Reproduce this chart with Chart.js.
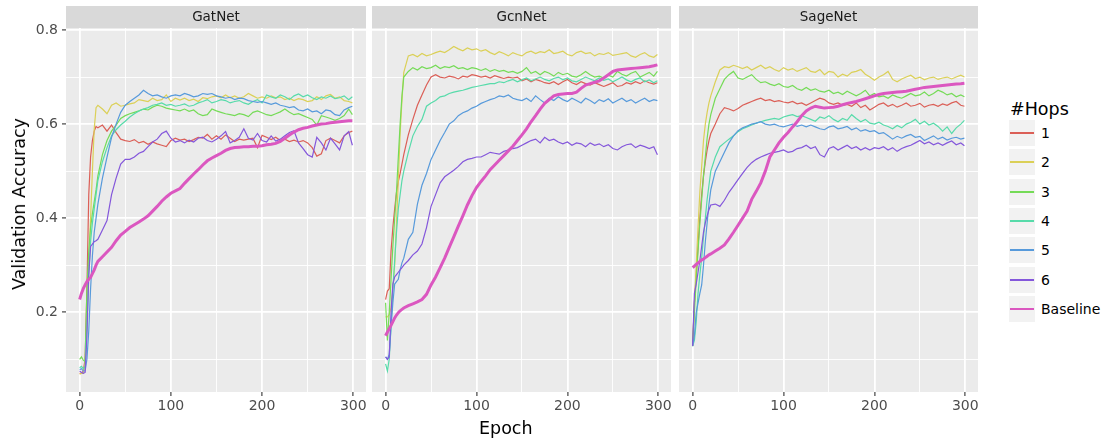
<!DOCTYPE html>
<html>
<head>
<meta charset="utf-8">
<script src="https://cdn.jsdelivr.net/npm/chart.js@4.4.0/dist/chart.umd.min.js"></script>
<style>
  body { margin: 0; background: #fff; width: 1113px; height: 443px; position: relative; overflow: hidden; font-family: "DejaVu Sans", sans-serif; }
  canvas.panel { position: absolute; top: 6px; }
  .axis-title { position: absolute; font-size: 17.5px; line-height: 20px; color: #000; white-space: nowrap; }
  #ytitle { left: 18.5px; top: 203.5px; transform: translate(-50%, -50%) rotate(-90deg); }
  #xtitle { left: 479px; top: 418px; }
  #legend-title { position: absolute; left: 1010px; top: 99px; font-size: 17.5px; line-height: 20px; color: #000; }
  .key { position: absolute; left: 1009px; width: 26px; height: 26px; background: #F2F2F2; }
  .key span { position: absolute; left: 1px; right: 1px; top: 12px; height: 2px; }
  .key-label { position: absolute; left: 1041px; height: 26px; line-height: 26px; font-size: 14px; color: #000; }
</style>
</head>
<body>
<canvas id="gat" class="panel" width="386" height="416" style="left:0px"></canvas>
<canvas id="gcn" class="panel" width="319" height="416" style="left:372px"></canvas>
<canvas id="sage" class="panel" width="319" height="416" style="left:679px"></canvas>
<div id="ytitle" class="axis-title">Validation Accuracy</div>
<div id="xtitle" class="axis-title">Epoch</div>
<div id="legend-title">#Hops</div>
<div id="legend"></div>
<script>
// epochs at which accuracy is sampled
const epochs = [0,2,4,6,8,10,12,14,16,18,20,
  25,30,35,40,45,50,55,60,65,70,
  75,80,85,90,95,100,105,110,115,120,
  125,130,135,140,145,150,155,160,165,170,
  175,180,185,190,195,200,205,210,215,220,
  225,230,235,240,245,250,255,260,265,270,
  275,280,285,290,295,299];

const hopLabels = ['1', '2', '3', '4', '5', '6', 'Baseline'];
const hopColors = ['#DB5F57', '#DBD057', '#75DB57', '#57DBAA', '#579ADB', '#8457DB', '#DB57C0'];
const xTicks = [0, 50, 100, 150, 200, 250, 300];
const yTicks = [0.1, 0.2, 0.3, 0.4, 0.5, 0.6, 0.7, 0.8];

// ---- GatNet ----
const gatHop1 = [0.07,0.07,0.075,0.10,0.25,0.45,0.53,0.565,0.585,0.595,0.592,
  0.598,0.585,0.598,0.582,0.568,0.565,0.563,0.567,0.56,0.563,
  0.557,0.562,0.558,0.555,0.552,0.565,0.57,0.566,0.568,0.563,
  0.567,0.572,0.57,0.578,0.568,0.575,0.568,0.577,0.57,0.563,
  0.568,0.566,0.568,0.57,0.55,0.576,0.572,0.567,0.572,0.565,
  0.568,0.563,0.566,0.562,0.565,0.56,0.55,0.532,0.537,0.565,
  0.57,0.565,0.56,0.575,0.582,0.585];
const gatHop2 = [0.068,0.07,0.07,0.09,0.18,0.3,0.4,0.5,0.59,0.635,0.64,
  0.632,0.622,0.64,0.645,0.638,0.64,0.643,0.645,0.652,0.65,
  0.648,0.655,0.65,0.652,0.662,0.648,0.655,0.651,0.655,0.65,
  0.653,0.648,0.656,0.654,0.658,0.66,0.656,0.662,0.656,0.66,
  0.655,0.658,0.665,0.66,0.655,0.658,0.655,0.66,0.656,0.658,
  0.652,0.655,0.65,0.654,0.652,0.648,0.65,0.658,0.652,0.66,
  0.663,0.655,0.658,0.65,0.648,0.645];
const gatHop3 = [0.1,0.105,0.098,0.095,0.25,0.33,0.38,0.41,0.435,0.46,0.49,
  0.535,0.565,0.585,0.598,0.612,0.618,0.622,0.625,0.628,0.632,
  0.63,0.636,0.64,0.638,0.634,0.632,0.63,0.628,0.632,0.627,
  0.63,0.622,0.618,0.62,0.632,0.628,0.625,0.622,0.62,0.618,
  0.622,0.62,0.616,0.625,0.628,0.624,0.62,0.618,0.622,0.626,
  0.632,0.625,0.62,0.622,0.618,0.614,0.61,0.598,0.618,0.615,
  0.612,0.608,0.612,0.618,0.632,0.62];
const gatHop4 = [0.082,0.085,0.08,0.085,0.17,0.28,0.35,0.39,0.42,0.45,0.48,
  0.52,0.55,0.575,0.588,0.598,0.606,0.615,0.622,0.628,0.632,
  0.635,0.64,0.642,0.645,0.64,0.642,0.638,0.64,0.643,0.638,
  0.64,0.645,0.648,0.652,0.645,0.648,0.652,0.65,0.645,0.648,
  0.65,0.645,0.642,0.648,0.652,0.645,0.662,0.658,0.655,0.662,
  0.658,0.652,0.66,0.664,0.658,0.662,0.656,0.652,0.658,0.655,
  0.66,0.654,0.656,0.66,0.652,0.658];
const gatHop5 = [0.078,0.08,0.075,0.075,0.1,0.16,0.25,0.32,0.37,0.4,0.43,
  0.485,0.53,0.572,0.6,0.625,0.64,0.648,0.655,0.662,0.672,
  0.665,0.66,0.662,0.658,0.655,0.66,0.662,0.66,0.665,0.662,
  0.658,0.66,0.665,0.663,0.665,0.66,0.658,0.655,0.657,0.652,
  0.655,0.654,0.65,0.648,0.646,0.648,0.645,0.642,0.645,0.64,
  0.638,0.635,0.637,0.63,0.628,0.632,0.626,0.628,0.622,0.63,
  0.628,0.62,0.618,0.63,0.635,0.638];
const gatHop6 = [0.075,0.072,0.07,0.072,0.15,0.28,0.34,0.345,0.35,0.352,0.355,
  0.375,0.395,0.45,0.485,0.515,0.525,0.525,0.53,0.538,0.542,
  0.552,0.562,0.568,0.58,0.585,0.57,0.562,0.565,0.56,0.566,
  0.562,0.57,0.572,0.565,0.562,0.568,0.575,0.584,0.56,0.565,
  0.572,0.59,0.57,0.566,0.58,0.565,0.562,0.575,0.564,0.568,
  0.575,0.582,0.586,0.56,0.548,0.535,0.53,0.572,0.56,0.545,
  0.57,0.558,0.545,0.575,0.584,0.555];
const gatBase = [0.227,0.24,0.25,0.258,0.265,0.27,0.274,0.282,0.29,0.3,0.308,
  0.318,0.328,0.338,0.352,0.364,0.372,0.38,0.386,0.392,0.398,
  0.405,0.415,0.425,0.436,0.445,0.453,0.458,0.463,0.474,0.484,
  0.494,0.503,0.513,0.522,0.528,0.533,0.538,0.544,0.548,0.55,
  0.551,0.552,0.552,0.553,0.553,0.554,0.556,0.557,0.559,0.563,
  0.57,0.577,0.583,0.588,0.591,0.593,0.596,0.598,0.6,0.601,
  0.603,0.604,0.605,0.606,0.607,0.607];

// ---- GcnNet ----
const gcnHop1 = [0.227,0.245,0.25,0.33,0.38,0.42,0.455,0.478,0.495,0.515,0.535,
  0.577,0.61,0.64,0.662,0.683,0.7,0.705,0.7,0.698,0.702,
  0.7,0.696,0.702,0.7,0.705,0.703,0.7,0.702,0.698,0.703,
  0.7,0.697,0.7,0.698,0.7,0.692,0.696,0.69,0.695,0.692,
  0.688,0.686,0.69,0.684,0.69,0.695,0.688,0.684,0.69,0.686,
  0.683,0.688,0.684,0.68,0.684,0.688,0.68,0.682,0.688,0.685,
  0.69,0.686,0.692,0.688,0.685,0.688];
const gcnHop2 = [0.19,0.19,0.195,0.21,0.25,0.3,0.39,0.48,0.58,0.65,0.71,
  0.745,0.748,0.743,0.75,0.745,0.748,0.752,0.755,0.752,0.758,
  0.765,0.76,0.756,0.762,0.758,0.76,0.755,0.758,0.752,0.748,
  0.754,0.75,0.745,0.752,0.748,0.745,0.752,0.755,0.75,0.754,
  0.752,0.758,0.75,0.752,0.755,0.748,0.745,0.752,0.755,0.75,
  0.752,0.745,0.75,0.748,0.752,0.746,0.748,0.75,0.752,0.745,
  0.742,0.748,0.752,0.745,0.742,0.748];
const gcnHop3 = [0.22,0.14,0.2,0.27,0.34,0.4,0.456,0.53,0.6,0.66,0.7,
  0.712,0.72,0.715,0.722,0.718,0.72,0.725,0.718,0.722,0.72,
  0.724,0.718,0.72,0.716,0.72,0.718,0.714,0.718,0.712,0.716,
  0.712,0.714,0.71,0.712,0.708,0.712,0.72,0.708,0.712,0.705,
  0.712,0.708,0.702,0.71,0.705,0.708,0.702,0.7,0.705,0.712,
  0.705,0.7,0.702,0.698,0.704,0.7,0.712,0.706,0.702,0.708,
  0.712,0.7,0.705,0.71,0.702,0.712];
const gcnHop4 = [0.09,0.075,0.1,0.17,0.25,0.31,0.37,0.42,0.45,0.48,0.5,
  0.54,0.575,0.595,0.61,0.638,0.645,0.65,0.658,0.66,0.665,
  0.668,0.67,0.672,0.675,0.678,0.68,0.682,0.684,0.686,0.686,
  0.69,0.688,0.692,0.695,0.69,0.694,0.698,0.692,0.696,0.7,
  0.695,0.692,0.697,0.7,0.694,0.698,0.692,0.69,0.695,0.7,
  0.696,0.692,0.698,0.693,0.696,0.69,0.695,0.7,0.694,0.69,
  0.695,0.698,0.69,0.694,0.688,0.692];
const gcnHop5 = [0.105,0.1,0.11,0.17,0.22,0.26,0.265,0.27,0.29,0.305,0.315,
  0.355,0.37,0.43,0.47,0.495,0.525,0.545,0.565,0.582,0.6,
  0.607,0.618,0.624,0.628,0.634,0.638,0.644,0.648,0.652,0.655,
  0.66,0.658,0.662,0.655,0.652,0.65,0.655,0.648,0.66,0.652,
  0.645,0.655,0.65,0.658,0.652,0.648,0.655,0.65,0.645,0.655,
  0.65,0.644,0.652,0.648,0.654,0.645,0.65,0.655,0.648,0.652,
  0.645,0.65,0.655,0.648,0.652,0.65];
const gcnHop6 = [0.105,0.1,0.105,0.2,0.26,0.275,0.28,0.285,0.29,0.295,0.3,
  0.31,0.322,0.33,0.345,0.38,0.425,0.45,0.475,0.488,0.495,
  0.502,0.51,0.52,0.525,0.527,0.53,0.53,0.535,0.54,0.538,
  0.536,0.542,0.545,0.548,0.55,0.555,0.56,0.565,0.568,0.56,
  0.572,0.565,0.568,0.562,0.558,0.562,0.555,0.56,0.558,0.552,
  0.56,0.555,0.558,0.552,0.556,0.548,0.545,0.552,0.556,0.558,
  0.55,0.555,0.552,0.548,0.552,0.535];
const gcnBase = [0.15,0.158,0.165,0.172,0.18,0.188,0.194,0.199,0.203,0.206,0.209,
  0.214,0.218,0.222,0.227,0.238,0.258,0.275,0.295,0.315,0.338,
  0.36,0.383,0.405,0.428,0.448,0.465,0.478,0.49,0.503,0.513,
  0.523,0.533,0.543,0.553,0.565,0.577,0.59,0.605,0.618,0.632,
  0.644,0.652,0.66,0.663,0.664,0.665,0.665,0.668,0.676,0.683,
  0.686,0.689,0.692,0.698,0.705,0.712,0.715,0.716,0.717,0.718,
  0.719,0.72,0.721,0.722,0.724,0.726];

// ---- SageNet ----
const sageHop1 = [0.128,0.22,0.28,0.34,0.4,0.45,0.49,0.52,0.545,0.565,0.58,
  0.6,0.622,0.635,0.632,0.628,0.633,0.64,0.644,0.648,0.652,
  0.655,0.65,0.652,0.648,0.65,0.647,0.645,0.648,0.643,0.645,
  0.64,0.645,0.65,0.655,0.652,0.645,0.642,0.645,0.64,0.642,
  0.638,0.645,0.635,0.64,0.63,0.636,0.642,0.645,0.638,0.642,
  0.636,0.64,0.645,0.638,0.64,0.644,0.636,0.64,0.642,0.638,
  0.643,0.64,0.645,0.648,0.64,0.638];
const sageHop2 = [0.128,0.22,0.3,0.38,0.456,0.51,0.565,0.6,0.625,0.645,0.66,
  0.69,0.715,0.722,0.72,0.725,0.722,0.718,0.722,0.715,0.72,
  0.725,0.718,0.722,0.716,0.712,0.72,0.715,0.718,0.712,0.716,
  0.72,0.712,0.71,0.716,0.705,0.712,0.71,0.7,0.706,0.702,
  0.71,0.712,0.716,0.706,0.7,0.693,0.7,0.705,0.712,0.695,
  0.69,0.696,0.7,0.704,0.697,0.7,0.694,0.698,0.7,0.695,
  0.698,0.7,0.696,0.7,0.704,0.7];
const sageHop3 = [0.128,0.2,0.27,0.33,0.39,0.44,0.49,0.53,0.57,0.6,0.62,
  0.655,0.675,0.695,0.705,0.712,0.698,0.695,0.7,0.705,0.695,
  0.688,0.69,0.685,0.682,0.686,0.68,0.678,0.682,0.675,0.672,
  0.678,0.672,0.675,0.67,0.668,0.672,0.665,0.668,0.663,0.67,
  0.665,0.66,0.665,0.672,0.66,0.665,0.658,0.66,0.655,0.662,
  0.658,0.655,0.66,0.665,0.66,0.662,0.668,0.66,0.665,0.672,
  0.668,0.662,0.665,0.658,0.662,0.658];
const sageHop4 = [0.128,0.14,0.18,0.24,0.28,0.315,0.36,0.4,0.44,0.47,0.5,
  0.53,0.552,0.56,0.568,0.575,0.584,0.59,0.594,0.598,0.602,
  0.605,0.608,0.61,0.612,0.61,0.615,0.618,0.62,0.616,0.618,
  0.614,0.61,0.606,0.615,0.612,0.618,0.61,0.605,0.612,0.608,
  0.62,0.612,0.605,0.61,0.602,0.6,0.604,0.598,0.595,0.59,
  0.597,0.592,0.6,0.604,0.61,0.6,0.606,0.598,0.602,0.595,
  0.585,0.594,0.58,0.592,0.6,0.608];
const sageHop5 = [0.128,0.15,0.2,0.22,0.24,0.258,0.3,0.35,0.39,0.43,0.46,
  0.5,0.52,0.54,0.56,0.575,0.586,0.592,0.596,0.6,0.602,
  0.605,0.6,0.598,0.6,0.596,0.594,0.597,0.6,0.595,0.598,
  0.594,0.598,0.594,0.59,0.588,0.594,0.596,0.59,0.592,0.595,
  0.588,0.592,0.585,0.588,0.584,0.586,0.58,0.582,0.575,0.568,
  0.574,0.57,0.575,0.578,0.572,0.574,0.565,0.57,0.575,0.568,
  0.572,0.566,0.57,0.572,0.568,0.57];
const sageHop6 = [0.128,0.24,0.26,0.285,0.31,0.34,0.37,0.39,0.405,0.418,0.428,
  0.43,0.425,0.438,0.455,0.468,0.482,0.495,0.508,0.518,0.525,
  0.53,0.534,0.538,0.54,0.542,0.545,0.54,0.542,0.548,0.55,
  0.555,0.548,0.552,0.535,0.53,0.548,0.552,0.545,0.55,0.555,
  0.548,0.552,0.545,0.55,0.545,0.55,0.548,0.552,0.545,0.55,
  0.542,0.548,0.552,0.555,0.56,0.565,0.558,0.562,0.556,0.56,
  0.555,0.56,0.564,0.556,0.56,0.554];
const sageBase = [0.295,0.298,0.302,0.305,0.308,0.311,0.313,0.316,0.319,0.322,0.324,
  0.33,0.336,0.343,0.356,0.37,0.385,0.4,0.415,0.44,0.457,
  0.475,0.5,0.53,0.545,0.56,0.572,0.582,0.594,0.605,0.618,
  0.628,0.634,0.638,0.636,0.634,0.635,0.636,0.638,0.641,0.644,
  0.646,0.648,0.651,0.654,0.657,0.66,0.663,0.665,0.666,0.667,
  0.668,0.669,0.67,0.672,0.674,0.676,0.678,0.679,0.68,0.681,
  0.682,0.683,0.684,0.685,0.686,0.687];

const panels = [
  { id: 'gat', title: 'GatNet', yAxis: true, series: [gatHop1, gatHop2, gatHop3, gatHop4, gatHop5, gatHop6, gatBase] },
  { id: 'gcn', title: 'GcnNet', yAxis: false, series: [gcnHop1, gcnHop2, gcnHop3, gcnHop4, gcnHop5, gcnHop6, gcnBase] },
  { id: 'sage', title: 'SageNet', yAxis: false, series: [sageHop1, sageHop2, sageHop3, sageHop4, sageHop5, sageHop6, sageBase] }
];

const STRIP_H = 22;
const tickFont = { family: 'DejaVu Sans', size: 14 };
const isMajorX = v => Math.round(v) % 100 === 0;
const isMajorY = v => Math.round(v * 10) % 2 === 0;

// grey panel background + facet strip above it
const facetPanel = {
  id: 'facetPanel',
  beforeDraw(chart, args, opts) {
    const { ctx, chartArea: a } = chart;
    ctx.save();
    ctx.fillStyle = '#EBEBEB';
    ctx.fillRect(a.left, a.top, a.right - a.left, a.bottom - a.top);
    ctx.fillStyle = '#D9D9D9';
    ctx.fillRect(a.left, 0, a.right - a.left, STRIP_H);
    ctx.fillStyle = '#1A1A1A';
    ctx.font = '13.5px "DejaVu Sans"';
    ctx.textAlign = 'center';
    ctx.textBaseline = 'middle';
    ctx.fillText(opts.title, (a.left + a.right) / 2, STRIP_H / 2 + 0.5);
    ctx.restore();
  }
};

function buildPanel(p) {
  const datasets = p.series.map((vals, i) => ({
    label: hopLabels[i],
    data: epochs.map((e, k) => ({ x: e, y: vals[k] })),
    borderColor: hopColors[i],
    borderWidth: i === 6 ? 3 : 1.2,
    pointRadius: 0,
    tension: 0,
    order: 7 - i
  }));

  new Chart(document.getElementById(p.id), {
    type: 'line',
    data: { datasets },
    plugins: [facetPanel],
    options: {
      responsive: false,
      animation: false,
      layout: { padding: { top: STRIP_H, right: 20, left: 0, bottom: 0 } },
      plugins: {
        legend: { display: false },
        tooltip: { enabled: false },
        facetPanel: { title: p.title }
      },
      scales: {
        x: {
          type: 'linear',
          min: -14.95,
          max: 313.95,
          afterBuildTicks: s => { s.ticks = xTicks.map(v => ({ value: v })); },
          afterFit: s => { s.height = 30; s.paddingLeft = 0; s.paddingRight = 0; },
          ticks: {
            autoSkip: false, maxRotation: 0, padding: 2,
            color: '#4D4D4D', font: tickFont,
            callback: v => isMajorX(v) ? String(v) : ''
          },
          grid: {
            color: '#FFFFFF',
            lineWidth: c => isMajorX(c.tick.value) ? 1.8 : 0.9,
            tickLength: 4,
            tickWidth: 1.1,
            tickColor: c => isMajorX(c.tick.value) ? '#333333' : 'rgba(0,0,0,0)'
          },
          border: { display: false }
        },
        y: {
          min: 0.0304,
          max: 0.8043,
          afterBuildTicks: s => { s.ticks = yTicks.map(v => ({ value: v })); },
          afterFit: s => { s.width = p.yAxis ? 66 : 0; s.paddingTop = 0; s.paddingBottom = 0; },
          ticks: {
            display: p.yAxis, padding: 4,
            color: '#4D4D4D', font: tickFont,
            callback: v => isMajorY(v) ? v.toFixed(1) : ''
          },
          grid: {
            color: '#FFFFFF',
            lineWidth: c => isMajorY(c.tick.value) ? 1.8 : 0.9,
            drawTicks: p.yAxis,
            tickLength: 4,
            tickWidth: 1.1,
            tickColor: c => isMajorY(c.tick.value) ? '#333333' : 'rgba(0,0,0,0)'
          },
          border: { display: false }
        }
      }
    }
  });
}

panels.forEach(buildPanel);

// legend keys
const legend = document.getElementById('legend');
hopLabels.forEach((name, i) => {
  const top = 120 + i * 29.3;
  const key = document.createElement('div');
  key.className = 'key';
  key.style.top = top + 'px';
  const line = document.createElement('span');
  line.style.background = hopColors[i];
  key.appendChild(line);
  const label = document.createElement('div');
  label.className = 'key-label';
  label.style.top = top + 'px';
  label.textContent = name;
  legend.appendChild(key);
  legend.appendChild(label);
});
</script>
</body>
</html>
